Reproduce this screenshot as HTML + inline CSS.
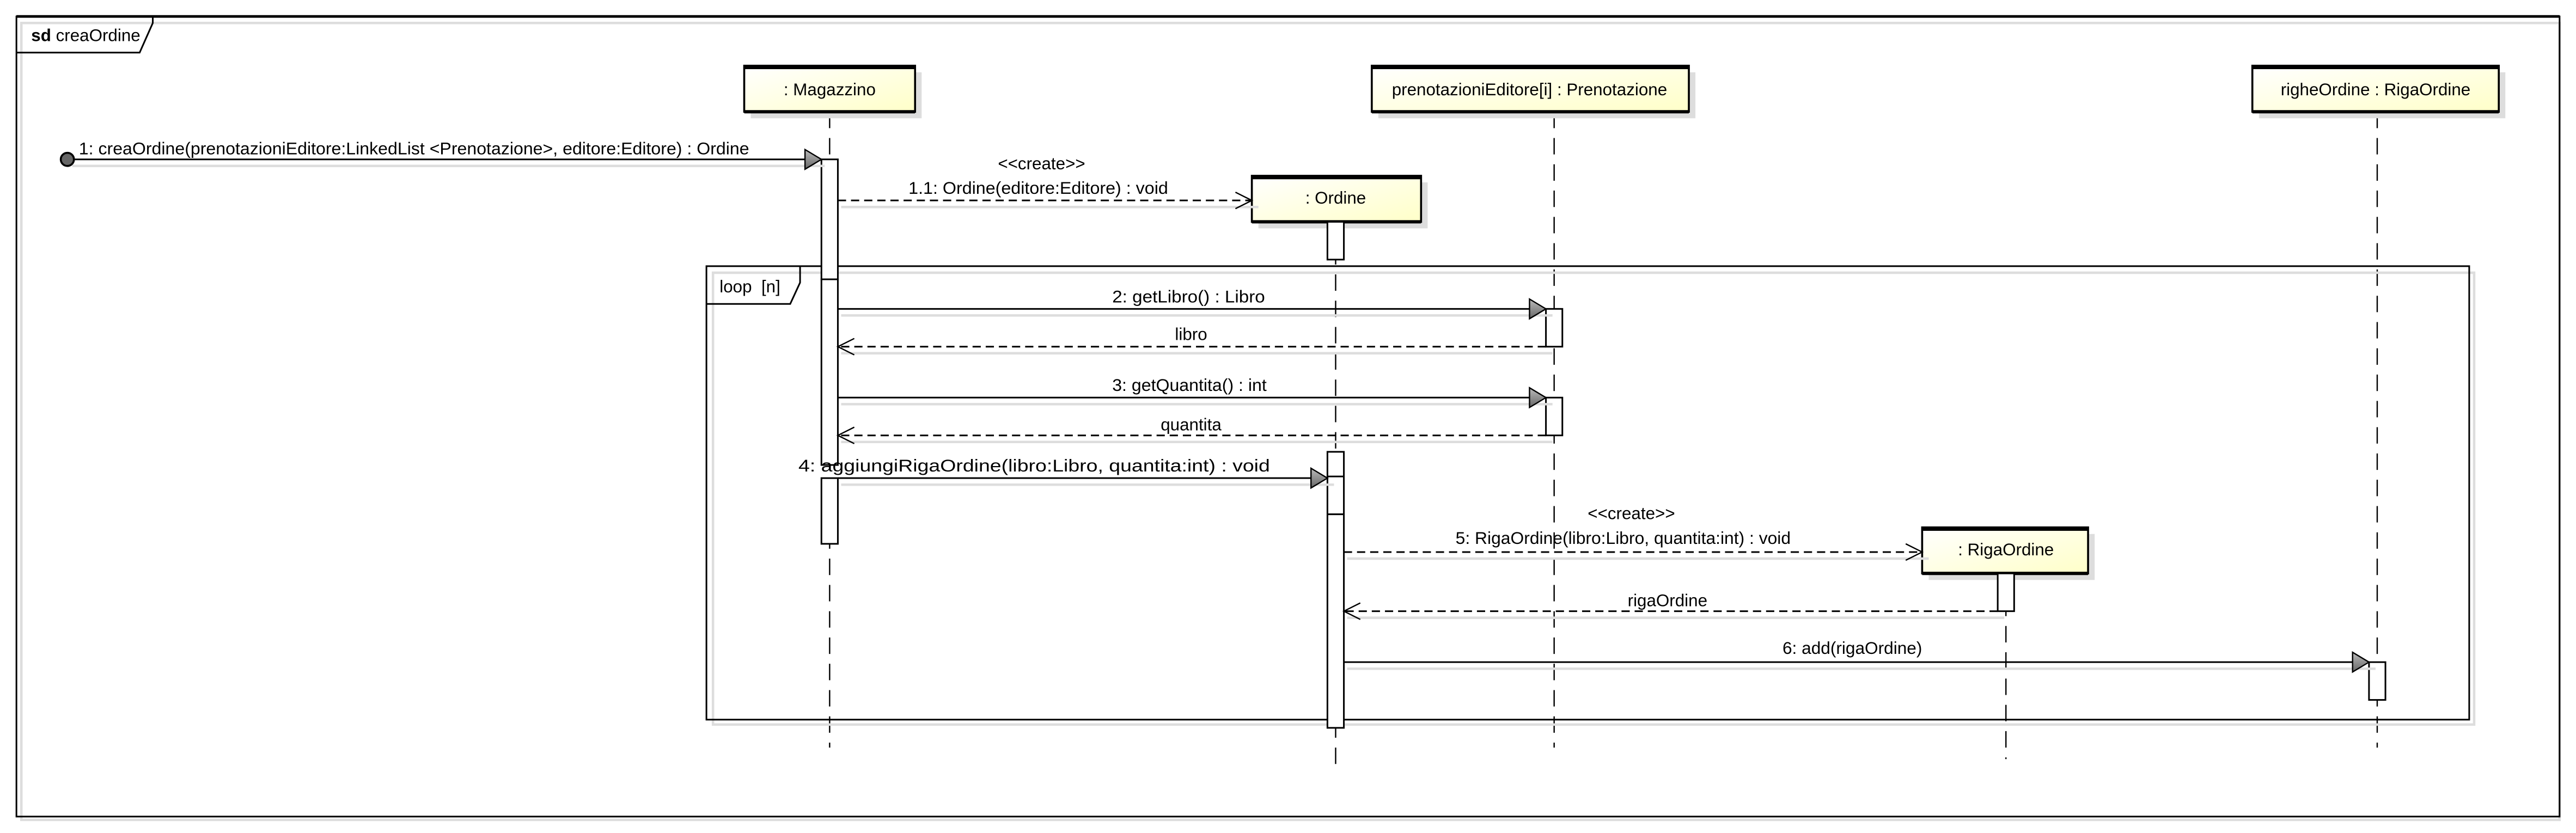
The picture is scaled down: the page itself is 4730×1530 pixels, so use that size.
<!DOCTYPE html>
<html><head><meta charset="utf-8"><style>
html,body{margin:0;padding:0;background:#fff;}
svg{display:block;}
text{font-family:"Liberation Sans",sans-serif;font-size:10.4px;fill:#000;}
</style></head><body>
<svg width="4730" height="1530" viewBox="0 0 1568 507" preserveAspectRatio="none" xmlns="http://www.w3.org/2000/svg">
<defs>
<linearGradient id="yg" x1="0" y1="0" x2="1" y2="1"><stop offset="0" stop-color="#ffffff"/><stop offset="1" stop-color="#ffffc8"/></linearGradient>
<linearGradient id="ag" x1="0" y1="0" x2="0" y2="1"><stop offset="0" stop-color="#bbb"/><stop offset="1" stop-color="#666"/></linearGradient>
</defs>
<rect x="0" y="0" width="1568" height="507" fill="#fff"/>
<rect x="13" y="14" width="1545" height="485" fill="none" stroke="#ddd" stroke-width="1.5"/>
<rect x="10" y="10" width="1548" height="487" fill="none" stroke="#000" stroke-width="1"/>
<line x1="10" y1="10" x2="1558" y2="10" stroke="#000" stroke-width="1.6"/>
<path d="M10 32 L85 32 L93 14 L93 10" fill="none" stroke="#000" stroke-width="1"/>
<text x="19" y="25"><tspan font-weight="bold">sd</tspan> creaOrdine</text>

<g stroke="#000" stroke-width="0.8" stroke-dasharray="10,6">
<line x1="505" y1="68" x2="505" y2="455"/>
<line x1="946" y1="68" x2="946" y2="455"/>
<line x1="1447" y1="68" x2="1447" y2="455"/>
<line x1="813" y1="135" x2="813" y2="470"/>
<line x1="1221" y1="349" x2="1221" y2="462"/>
</g>

<rect x="434" y="166" width="1072" height="275" fill="none" stroke="#ddd" stroke-width="1.5"/>
<rect x="430" y="162" width="1073" height="276" fill="none" stroke="#000" stroke-width="1"/>
<path d="M430 185 L481 185 L487 172 L487 162" fill="none" stroke="#000" stroke-width="1"/>
<text x="438" y="178">loop&#160;&#160;[n]</text>

<g>
<rect x="457" y="44" width="104" height="28" fill="#ddd"/>
<rect x="453" y="40" width="104" height="28" fill="url(#yg)" stroke="#000" stroke-width="1.2"/>
<line x1="453" y1="41" x2="557" y2="41" stroke="#000" stroke-width="2.2"/>
<line x1="453" y1="68" x2="557" y2="68" stroke="#000" stroke-width="2"/>
<text x="505" y="58" text-anchor="middle">: Magazzino</text>

<rect x="839" y="44" width="193" height="28" fill="#ddd"/>
<rect x="835" y="40" width="193" height="28" fill="url(#yg)" stroke="#000" stroke-width="1.2"/>
<line x1="835" y1="41" x2="1028" y2="41" stroke="#000" stroke-width="2.2"/>
<line x1="835" y1="68" x2="1028" y2="68" stroke="#000" stroke-width="2"/>
<text x="931" y="58" text-anchor="middle">prenotazioniEditore[i] : Prenotazione</text>

<rect x="1375" y="44" width="150" height="28" fill="#ddd"/>
<rect x="1371" y="40" width="150" height="28" fill="url(#yg)" stroke="#000" stroke-width="1.2"/>
<line x1="1371" y1="41" x2="1521" y2="41" stroke="#000" stroke-width="2.2"/>
<line x1="1371" y1="68" x2="1521" y2="68" stroke="#000" stroke-width="2"/>
<text x="1446" y="58" text-anchor="middle">righeOrdine : RigaOrdine</text>

<rect x="766" y="111" width="103" height="28" fill="#ddd"/>
<rect x="762" y="107" width="103" height="28" fill="url(#yg)" stroke="#000" stroke-width="1.2"/>
<line x1="762" y1="108" x2="865" y2="108" stroke="#000" stroke-width="2.2"/>
<line x1="762" y1="135" x2="865" y2="135" stroke="#000" stroke-width="2"/>
<text x="813" y="124" text-anchor="middle">: Ordine</text>

<rect x="1174" y="325" width="101" height="28" fill="#ddd"/>
<rect x="1170" y="321" width="101" height="28" fill="url(#yg)" stroke="#000" stroke-width="1.2"/>
<line x1="1170" y1="322" x2="1271" y2="322" stroke="#000" stroke-width="2.2"/>
<line x1="1170" y1="349" x2="1271" y2="349" stroke="#000" stroke-width="2"/>
<text x="1221" y="338" text-anchor="middle">: RigaOrdine</text>
</g>

<g fill="#fff" stroke="#000" stroke-width="1">
<rect x="500" y="97" width="10" height="73"/>
<rect x="500" y="170" width="10" height="113"/>
<rect x="500" y="291" width="10" height="40"/>
<rect x="808" y="135" width="10" height="23"/>
<rect x="808" y="275" width="10" height="168"/>
<line x1="808" y1="290" x2="818" y2="290"/>
<line x1="808" y1="313" x2="818" y2="313"/>
<rect x="941" y="188" width="10" height="23"/>
<rect x="941" y="242" width="10" height="23"/>
<rect x="1216" y="349" width="10" height="23"/>
<rect x="1442" y="403" width="10" height="23"/>
</g>

<g stroke="#ddd" stroke-width="1.5" fill="none">
<line x1="44" y1="101" x2="502" y2="101"/>
<line x1="512" y1="126" x2="766" y2="126"/>
<line x1="512" y1="192" x2="945" y2="192"/>
<line x1="512" y1="215" x2="945" y2="215"/>
<line x1="512" y1="246" x2="945" y2="246"/>
<line x1="512" y1="269" x2="945" y2="269"/>
<line x1="512" y1="295" x2="812" y2="295"/>
<line x1="820" y1="340" x2="1174" y2="340"/>
<line x1="820" y1="376" x2="1220" y2="376"/>
<line x1="820" y1="407" x2="1446" y2="407"/>
</g>

<circle cx="41" cy="97" r="4" fill="#666" stroke="#000" stroke-width="1.2"/>
<line x1="45" y1="97" x2="500" y2="97" stroke="#000" stroke-width="1"/>
<path d="M490 91 L500 97 L490 103 Z" fill="url(#ag)" stroke="#000" stroke-width="0.8"/>
<text x="48" y="94" textLength="408" lengthAdjust="spacingAndGlyphs">1: creaOrdine(prenotazioniEditore:LinkedList &lt;Prenotazione&gt;, editore:Editore) : Ordine</text>

<line x1="510" y1="122" x2="761" y2="122" stroke="#000" stroke-width="1" stroke-dasharray="5,3"/>
<path d="M752 117 L762 122 L752 127" fill="none" stroke="#000" stroke-width="0.8"/>
<text x="634" y="103" text-anchor="middle">&lt;&lt;create&gt;&gt;</text>
<text x="553" y="118" textLength="158" lengthAdjust="spacingAndGlyphs">1.1: Ordine(editore:Editore) : void</text>

<line x1="510" y1="188" x2="941" y2="188" stroke="#000" stroke-width="1"/>
<path d="M931 182 L941 188 L931 194 Z" fill="url(#ag)" stroke="#000" stroke-width="0.8"/>
<text x="677" y="184" textLength="93" lengthAdjust="spacingAndGlyphs">2: getLibro() : Libro</text>
<line x1="941" y1="211" x2="511" y2="211" stroke="#000" stroke-width="1" stroke-dasharray="5,3"/>
<path d="M520 206 L510 211 L520 216" fill="none" stroke="#000" stroke-width="0.8"/>
<text x="725" y="207" text-anchor="middle">libro</text>

<line x1="510" y1="242" x2="941" y2="242" stroke="#000" stroke-width="1"/>
<path d="M931 236 L941 242 L931 248 Z" fill="url(#ag)" stroke="#000" stroke-width="0.8"/>
<text x="677" y="238" textLength="94" lengthAdjust="spacingAndGlyphs">3: getQuantita() : int</text>
<line x1="941" y1="265" x2="511" y2="265" stroke="#000" stroke-width="1" stroke-dasharray="5,3"/>
<path d="M520 260 L510 265 L520 270" fill="none" stroke="#000" stroke-width="0.8"/>
<text x="725" y="262" text-anchor="middle">quantita</text>

<line x1="510" y1="291" x2="808" y2="291" stroke="#000" stroke-width="1"/>
<path d="M798 285 L808 291 L798 297 Z" fill="url(#ag)" stroke="#000" stroke-width="0.8"/>
<text x="486" y="287" textLength="287" lengthAdjust="spacingAndGlyphs">4: aggiungiRigaOrdine(libro:Libro, quantita:int) : void</text>

<line x1="818" y1="336" x2="1169" y2="336" stroke="#000" stroke-width="1" stroke-dasharray="5,3"/>
<path d="M1160 331 L1170 336 L1160 341" fill="none" stroke="#000" stroke-width="0.8"/>
<text x="993" y="316" text-anchor="middle">&lt;&lt;create&gt;&gt;</text>
<text x="886" y="331" textLength="204" lengthAdjust="spacingAndGlyphs">5: RigaOrdine(libro:Libro, quantita:int) : void</text>

<line x1="1216" y1="372" x2="819" y2="372" stroke="#000" stroke-width="1" stroke-dasharray="5,3"/>
<path d="M828 367 L818 372 L828 377" fill="none" stroke="#000" stroke-width="0.8"/>
<text x="1015" y="369" text-anchor="middle">rigaOrdine</text>

<line x1="818" y1="403" x2="1442" y2="403" stroke="#000" stroke-width="1"/>
<path d="M1432 397 L1442 403 L1432 409 Z" fill="url(#ag)" stroke="#000" stroke-width="0.8"/>
<text x="1085" y="398" textLength="85" lengthAdjust="spacingAndGlyphs">6: add(rigaOrdine)</text>
</svg>
</body></html>
